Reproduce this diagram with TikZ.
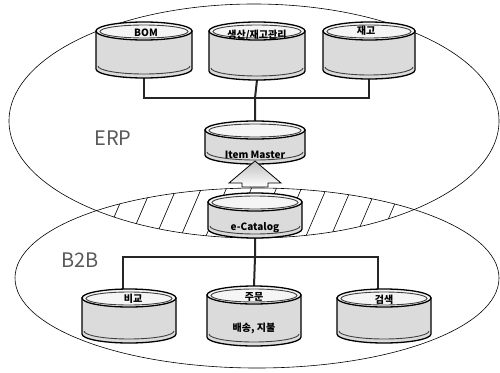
\documentclass[tikz,border=0pt]{standalone}
\usepackage{fontspec}
\setmainfont{Noto Sans CJK KR}
\usetikzlibrary{backgrounds}
\tikzset{
  zone/.style={draw=black, line width=0.6pt},
  hatch/.style={draw=black, line width=0.6pt},
  conn/.style={draw=black!85, line width=2pt},
  cylbody/.style={fill=gray!28, draw=black, line width=1.3pt},
  cyltop/.style={fill=gray!8, draw=black, line width=1.3pt},
  cylrim/.style={draw=black!75, line width=0.9pt},
  anchorbox/.style={draw=none, inner sep=0pt, outer sep=0pt},
  lbl/.style={font=\fontsize{10}{11}\selectfont, inner sep=0pt},
  zonelbl/.style={font=\fontsize{20}{22}\selectfont, text=gray!70!black, inner sep=0pt},
  blockarrow/.style={draw=black, line width=0.8pt, top color=gray!50, bottom color=white}
}
\newcommand\dbcyl[5]{%
  % #1 name, #2 cx, #3 ytop, #4 ybot, #5 half width
  \path[cylbody] (#2-#5,#3+9) -- (#2-#5,#4-9)
     arc[start angle=180,end angle=0,x radius=#5,y radius=9] -- (#2+#5,#3+9) -- cycle;
  \draw[cylrim] (#2-#5+2,#4-12) arc[start angle=180,end angle=0,x radius=#5-2,y radius=8];
  \path[cyltop] (#2,#3+9) ellipse[x radius=#5,y radius=9];
  \draw[cylrim] (#2,#3+9.5) ellipse[x radius=#5-4,y radius=6.5];
  \node[anchorbox, minimum width=2*#5, minimum height=#4-#3] (#1) at (#2,{(#3+#4)/2}) {};
}
\begin{document}
\begin{tikzpicture}[x=1pt,y=-1pt]
\useasboundingbox (0,0) rectangle (500,372);
\coordinate (erpc) at (254,121);
\coordinate (b2bc) at (257,278);
\coordinate (tjoin) at (255,98);
\coordinate (bjoin) at (255,257);
% cylinders
\dbcyl{bom}{144}{22}{78}{48}
\dbcyl{prod}{257}{22}{80}{48}
\dbcyl{stock}{369}{22}{79}{46}
\dbcyl{item}{255}{121}{164}{50}
\dbcyl{ecat}{255}{193}{238}{47}
\dbcyl{comp}{129}{289}{343}{47}
\dbcyl{order}{254}{286}{346}{47}
\dbcyl{search}{384}{289}{343}{47}
\begin{scope}[on background layer]
  % hatching in the overlap
  \begin{scope}
    \clip (erpc) ellipse[x radius=245,y radius=117];
    \clip (b2bc) ellipse[x radius=242,y radius=90];
    \foreach \x in {75,100,...,450} \draw[hatch] (\x,250) -- (\x+30,180);
  \end{scope}
  \draw[zone] (erpc) ellipse[x radius=245,y radius=117];
  \draw[zone] (b2bc) ellipse[x radius=242,y radius=90];
  % connectors
  \draw[conn] (bom.south) |- (tjoin) -| (stock.south);
  \draw[conn] (prod.south) -- (tjoin) -- (item.north);
  \draw[conn] (ecat.south) -- (bjoin) -- (order.north);
  \draw[conn] ([xshift=-6pt]comp.north) |- (bjoin) -| ([xshift=-6pt]search.north);
\end{scope}
% block arrow from e-Catalog up to Item Master
\path[blockarrow] ([xshift=-13pt,yshift=6pt]ecat.north) -- ([xshift=-13pt]item.south |- 0,183)
   -- ([xshift=-26pt]item.south |- 0,183) -- ([yshift=3pt]item.south)
   -- ([xshift=26pt]item.south |- 0,183) -- ([xshift=13pt]item.south |- 0,183)
   -- ([xshift=13pt,yshift=6pt]ecat.north) -- cycle;
% labels
\node[lbl] at (146,33) {\bfseries BOM};
\node[lbl] at (257,35) {\bfseries 생산/재고관리};
\node[lbl] at (366,31) {\bfseries 재고};
\node[lbl] at (255,155) {\bfseries Item Master};
\node[lbl] at (255,228) {\bfseries e-Catalog};
\node[lbl] at (133,299) {\bfseries 비교};
\node[lbl] at (254,297) {\bfseries 주문};
\node[lbl] at (254,328) {\bfseries 배송, 지불};
\node[lbl] at (384,300) {\bfseries 검색};
\node[zonelbl] at (113,138) {ERP};
\node[zonelbl] at (80,260) {B2B};
\end{tikzpicture}
\end{document}
